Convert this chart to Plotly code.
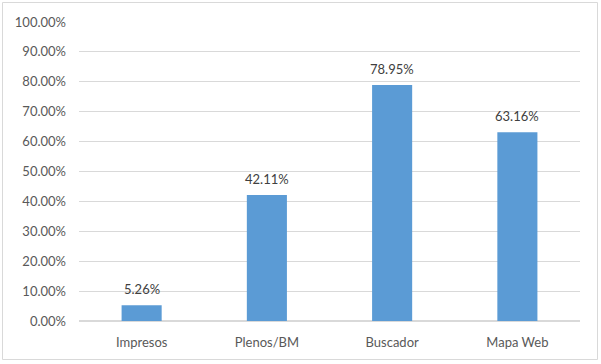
import plotly.graph_objects as go

categories = ["Impresos", "Plenos/BM", "Buscador", "Mapa Web"]
values = [0.0526, 0.4211, 0.7895, 0.6316]
labels = ["5.26%", "42.11%", "78.95%", "63.16%"]

W, H = 601, 364
l, r, t, b = 79, 21, 22, 43
pw, ph = W - l - r, H - t - b

def px_x(x):
    return (x - l) / pw

def px_y(y):
    return (H - b - y) / ph

fig = go.Figure(go.Bar(
    x=categories, y=values,
    marker=dict(color="#5B9BD5", line=dict(width=0)),
    hoverinfo="skip",
))

annotations = [
    dict(x=c, y=v, text=s, showarrow=False, xref="x", yref="y",
         yanchor="bottom", yshift=6,
         font=dict(family="Lato", size=13, color="#404040"))
    for c, v, s in zip(categories, values, labels)
]

fig.update_layout(
    width=W, height=H,
    margin=dict(l=l, r=r, t=t, b=b, autoexpand=False),
    paper_bgcolor="white", plot_bgcolor="white",
    bargap=0.68,
    showlegend=False,
    font=dict(family="Lato", size=13, color="#595959"),
    xaxis=dict(showgrid=False, showline=False, ticks="", ticklabelstandoff=12,
               tickfont=dict(size=13, color="#595959")),
    yaxis=dict(range=[0, 1.0], dtick=0.1, tickformat=".2%", showgrid=True,
               gridcolor="#D9D9D9", gridwidth=1, zeroline=True, zerolinecolor="#D9D9D9",
               showline=False, ticks="", ticklabelstandoff=12,
               tickfont=dict(size=13, color="#595959")),
    annotations=annotations,
    shapes=[dict(type="rect", xref="paper", yref="paper",
                 x0=px_x(2.5), x1=px_x(597.5), y0=px_y(359.5), y1=px_y(2.5),
                 line=dict(color="#D9D9D9", width=1), fillcolor="rgba(0,0,0,0)", layer="below")],
)

fig.write_html("out.html", config={"displayModeBar": False},
               post_script="document.body.style.margin='0';document.body.style.overflow='hidden';")
